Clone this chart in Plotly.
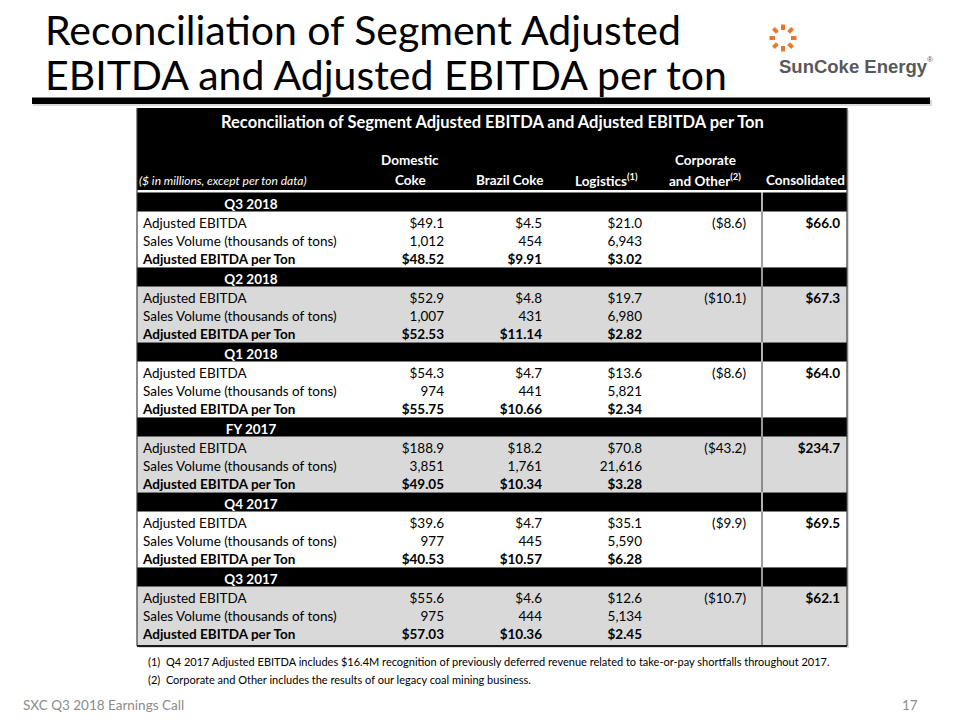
import math
import plotly.graph_objects as go

# ---------------- data ----------------
slide_title_lines = ["Reconciliation of Segment Adjusted", "EBITDA and Adjusted EBITDA per ton"]
table_title = "Reconciliation of Segment Adjusted EBITDA and Adjusted EBITDA per Ton"
units_note = "($ in millions, except per ton data)"
column_headers = ["Domestic<br>Coke", "Brazil Coke", "Logistics<sup>(1)</sup>",
                  "Corporate<br>and Other<sup>(2)</sup>", "Consolidated"]
sections = ["Q3 2018", "Q2 2018", "Q1 2018", "FY 2017", "Q4 2017", "Q3 2017"]
row_labels = ["Adjusted EBITDA", "Sales Volume (thousands of tons)", "Adjusted EBITDA per Ton"]

domestic_ebitda = [49.1, 52.9, 54.3, 188.9, 39.6, 55.6]
domestic_volume = [1012, 1007, 974, 3851, 977, 975]
domestic_per_ton = [48.52, 52.53, 55.75, 49.05, 40.53, 57.03]

brazil_ebitda = [4.5, 4.8, 4.7, 18.2, 4.7, 4.6]
brazil_volume = [454, 431, 441, 1761, 445, 444]
brazil_per_ton = [9.91, 11.14, 10.66, 10.34, 10.57, 10.36]

logistics_ebitda = [21.0, 19.7, 13.6, 70.8, 35.1, 12.6]
logistics_volume = [6943, 6980, 5821, 21616, 5590, 5134]
logistics_per_ton = [3.02, 2.82, 2.34, 3.28, 6.28, 2.45]

corporate_ebitda = [-8.6, -10.1, -8.6, -43.2, -9.9, -10.7]
consolidated_ebitda = [66.0, 67.3, 64.0, 234.7, 69.5, 62.1]

footnotes = [
    "(1)  Q4 2017 Adjusted EBITDA includes $16.4M recognition of previously deferred revenue related to take-or-pay shortfalls throughout 2017.",
    "(2)  Corporate and Other includes the results of our legacy coal mining business.",
]
footer_left = "SXC Q3 2018 Earnings Call"
page_number = "17"
logo_text = "SunCoke Energy"

# ---------------- layout constants ----------------
W, H = 960, 720
FONT = "Lato"
TABLE_L, TABLE_R, SEP_X = 137, 847, 762
TABLE_TOP, HEADER_BOTTOM = 108, 190
BODY_TOP = 192.5
SECTION_H = 75.0
BAND_H = 19.0
ROW_OFFSET = 30.0       # visual centre of first data row below band top
ROW_STEP = 17.9
BAND_TEXT_OFFSET = 11.0
TEXT_DY = 2.0           # plotly draws 'middle' text slightly high
TABLE_BOTTOM = 646
LABEL_X = 143
SECTION_LABEL_X = 251
COL_RIGHT = [444, 542, 642, 746, 840]
COL_HEAD_X = [410, 509, 606, 705, 805]
BODY_SIZE = 13.5
GRAY = "#d9d9d9"
BORDER = "#3f3f3f"
ORANGE = "#e8772e"


def money1(v):
    return f"${v:,.1f}" if v >= 0 else f"(${abs(v):,.1f})"


def money2(v):
    return f"${v:,.2f}"


def band_top(k):
    return BODY_TOP + k * SECTION_H


def row_y(k, j):
    return band_top(k) + ROW_OFFSET + j * ROW_STEP + TEXT_DY


def band_text_y(k):
    return band_top(k) + BAND_TEXT_OFFSET + TEXT_DY


fig = go.Figure()

# ---------------- shapes ----------------
shapes = []
# slide title underline bar (with soft shadow)
shapes.append(dict(type="rect", x0=33, x1=932, y0=100, y1=106, fillcolor="rgba(0,0,0,0.15)", line_width=0, layer="below"))
shapes.append(dict(type="rect", x0=32, x1=930, y0=97.5, y1=104, fillcolor="black", line_width=0, layer="below"))
# table shadow
shapes.append(dict(type="rect", x0=TABLE_L + 2, x1=TABLE_R + 2, y0=TABLE_TOP + 2, y1=TABLE_BOTTOM + 2,
                   fillcolor="rgba(0,0,0,0.15)", line_width=0, layer="below"))
# header block
shapes.append(dict(type="rect", x0=TABLE_L, x1=TABLE_R, y0=TABLE_TOP, y1=HEADER_BOTTOM,
                   fillcolor="black", line_width=0, layer="below"))
shapes.append(dict(type="rect", x0=TABLE_L, x1=TABLE_R, y0=HEADER_BOTTOM, y1=BODY_TOP,
                   fillcolor="white", line_width=0, layer="below"))
for k, name in enumerate(sections):
    top = band_top(k)
    bottom = band_top(k + 1) if k < len(sections) - 1 else TABLE_BOTTOM
    fill = "white" if k % 2 == 0 else GRAY
    shapes.append(dict(type="rect", x0=TABLE_L, x1=TABLE_R, y0=top, y1=bottom,
                       fillcolor=fill, line_width=0, layer="below"))
    shapes.append(dict(type="rect", x0=TABLE_L, x1=SEP_X - 0.7, y0=top, y1=top + BAND_H,
                       fillcolor="black", line_width=0, layer="below"))
    shapes.append(dict(type="rect", x0=SEP_X + 0.7, x1=TABLE_R, y0=top, y1=top + BAND_H,
                       fillcolor="black", line_width=0, layer="below"))
    shapes.append(dict(type="line", x0=SEP_X, x1=SEP_X, y0=top + BAND_H, y1=bottom,
                       line=dict(color=BORDER, width=1), layer="below"))
# outer borders
shapes.append(dict(type="line", x0=TABLE_L, x1=TABLE_L, y0=TABLE_TOP, y1=TABLE_BOTTOM,
                   line=dict(color=BORDER, width=1.2), layer="below"))
shapes.append(dict(type="line", x0=TABLE_R, x1=TABLE_R, y0=TABLE_TOP, y1=TABLE_BOTTOM,
                   line=dict(color=BORDER, width=1.2), layer="below"))
shapes.append(dict(type="line", x0=TABLE_L, x1=TABLE_R, y0=TABLE_BOTTOM, y1=TABLE_BOTTOM,
                   line=dict(color="#1a1a1a", width=2), layer="below"))

# logo icon: open ring with rays
cx, cy, r = 783, 38, 5.5
a0, a1 = math.radians(-40), math.radians(40)
shapes.append(dict(type="path",
                   path=f"M {cx + r*math.cos(a0):.2f},{cy + r*math.sin(a0):.2f} "
                        f"A {r} {r} 0 1 0 {cx + r*math.cos(a1):.2f},{cy + r*math.sin(a1):.2f}",
                   line=dict(color=ORANGE, width=4), layer="below"))
for ang in [0, 45, 90, 135, 180, 225, 270, 315]:
    a = math.radians(ang)
    shapes.append(dict(type="line", x0=cx + 8 * math.cos(a), y0=cy + 8 * math.sin(a),
                       x1=cx + 13.5 * math.cos(a), y1=cy + 13.5 * math.sin(a),
                       line=dict(color=ORANGE, width=4), layer="below"))

# ---------------- text traces ----------------
label_x, label_y, label_t = [], [], []
for k in range(len(sections)):
    for j, lab in enumerate(row_labels):
        label_x.append(LABEL_X)
        label_y.append(row_y(k, j))
        label_t.append(f"<b>{lab}</b>" if j == 2 else lab)
fig.add_trace(go.Scatter(x=label_x, y=label_y, text=label_t, mode="text", textposition="middle right",
                         textfont=dict(family=FONT, size=BODY_SIZE, color="black"), hoverinfo="skip"))

fig.add_trace(go.Scatter(x=[SECTION_LABEL_X] * len(sections),
                         y=[band_text_y(k) for k in range(len(sections))],
                         text=[f"<b>{s}</b>" for s in sections], mode="text", textposition="middle center",
                         textfont=dict(family=FONT, size=BODY_SIZE, color="white"), hoverinfo="skip"))

segment_columns = [
    (domestic_ebitda, domestic_volume, domestic_per_ton),
    (brazil_ebitda, brazil_volume, brazil_per_ton),
    (logistics_ebitda, logistics_volume, logistics_per_ton),
]
for c, (eb, vol, pt) in enumerate(segment_columns):
    xs, ys, ts = [], [], []
    for k in range(len(sections)):
        xs += [COL_RIGHT[c]] * 3
        ys += [row_y(k, 0), row_y(k, 1), row_y(k, 2)]
        ts += [money1(eb[k]), f"{vol[k]:,}", f"<b>{money2(pt[k])}</b>"]
    fig.add_trace(go.Scatter(x=xs, y=ys, text=ts, mode="text", textposition="middle left",
                             textfont=dict(family=FONT, size=BODY_SIZE, color="black"), hoverinfo="skip"))

fig.add_trace(go.Scatter(x=[COL_RIGHT[3]] * len(sections), y=[row_y(k, 0) for k in range(len(sections))],
                         text=[money1(v) for v in corporate_ebitda], mode="text", textposition="middle left",
                         textfont=dict(family=FONT, size=BODY_SIZE, color="black"), hoverinfo="skip"))
fig.add_trace(go.Scatter(x=[COL_RIGHT[4]] * len(sections), y=[row_y(k, 0) for k in range(len(sections))],
                         text=[f"<b>{money1(v)}</b>" for v in consolidated_ebitda], mode="text",
                         textposition="middle left",
                         textfont=dict(family=FONT, size=BODY_SIZE, color="black"), hoverinfo="skip"))

# ---------------- annotations ----------------
ann = []
for i, line in enumerate(slide_title_lines):
    ann.append(dict(x=43, y=29 + 45 * i, xref="x", yref="y", text=line, showarrow=False,
                    xanchor="left", yanchor="middle", font=dict(family=FONT, size=41, color="black")))
ann.append(dict(x=(TABLE_L + TABLE_R) / 2, y=122, xref="x", yref="y", text=f"<b>{table_title}</b>",
                showarrow=False, xanchor="center", yanchor="middle",
                font=dict(family=FONT, size=16.5, color="white")))
ann.append(dict(x=137, y=180, xref="x", yref="y", text=f"<i>{units_note}</i>", showarrow=False,
                xanchor="left", yanchor="middle", font=dict(family=FONT, size=12, color="white")))
for c, h in enumerate(column_headers):
    parts = h.split("<br>")
    for i, p in enumerate(reversed(parts)):
        ann.append(dict(x=COL_HEAD_X[c], y=180 - 20 * i, xref="x", yref="y", text=f"<b>{p}</b>",
                        showarrow=False, xanchor="center", yanchor="middle",
                        font=dict(family=FONT, size=BODY_SIZE, color="white")))
for i, fn in enumerate(footnotes):
    ann.append(dict(x=146, y=661 + 18 * i, xref="x", yref="y", text=fn, showarrow=False,
                    xanchor="left", yanchor="middle", font=dict(family=FONT, size=11, color="black")))
ann.append(dict(x=21, y=705, xref="x", yref="y", text=footer_left, showarrow=False,
                xanchor="left", yanchor="middle", font=dict(family=FONT, size=13.5, color="#8c8c8c")))
ann.append(dict(x=920, y=705, xref="x", yref="y", text=page_number, showarrow=False,
                xanchor="right", yanchor="middle", font=dict(family=FONT, size=13.5, color="#8c8c8c")))
ann.append(dict(x=777, y=66, xref="x", yref="y", text=f"<b>{logo_text}</b>", showarrow=False,
                xanchor="left", yanchor="middle",
                font=dict(family="Liberation Sans", size=18.5, color="#58595b")))
ann.append(dict(x=925, y=59, xref="x", yref="y", text="®", showarrow=False,
                xanchor="left", yanchor="middle",
                font=dict(family="Liberation Sans", size=8, color="#58595b")))

fig.update_layout(
    width=W, height=H, margin=dict(l=0, r=0, t=0, b=0),
    paper_bgcolor="white", plot_bgcolor="white", showlegend=False,
    xaxis=dict(range=[0, W], visible=False, fixedrange=True),
    yaxis=dict(range=[H, 0], visible=False, fixedrange=True),
    shapes=shapes, annotations=ann,
)
fig.write_html("out.html", config={"displayModeBar": False},
               post_script="document.body.style.margin='0';document.body.style.padding='0';")
